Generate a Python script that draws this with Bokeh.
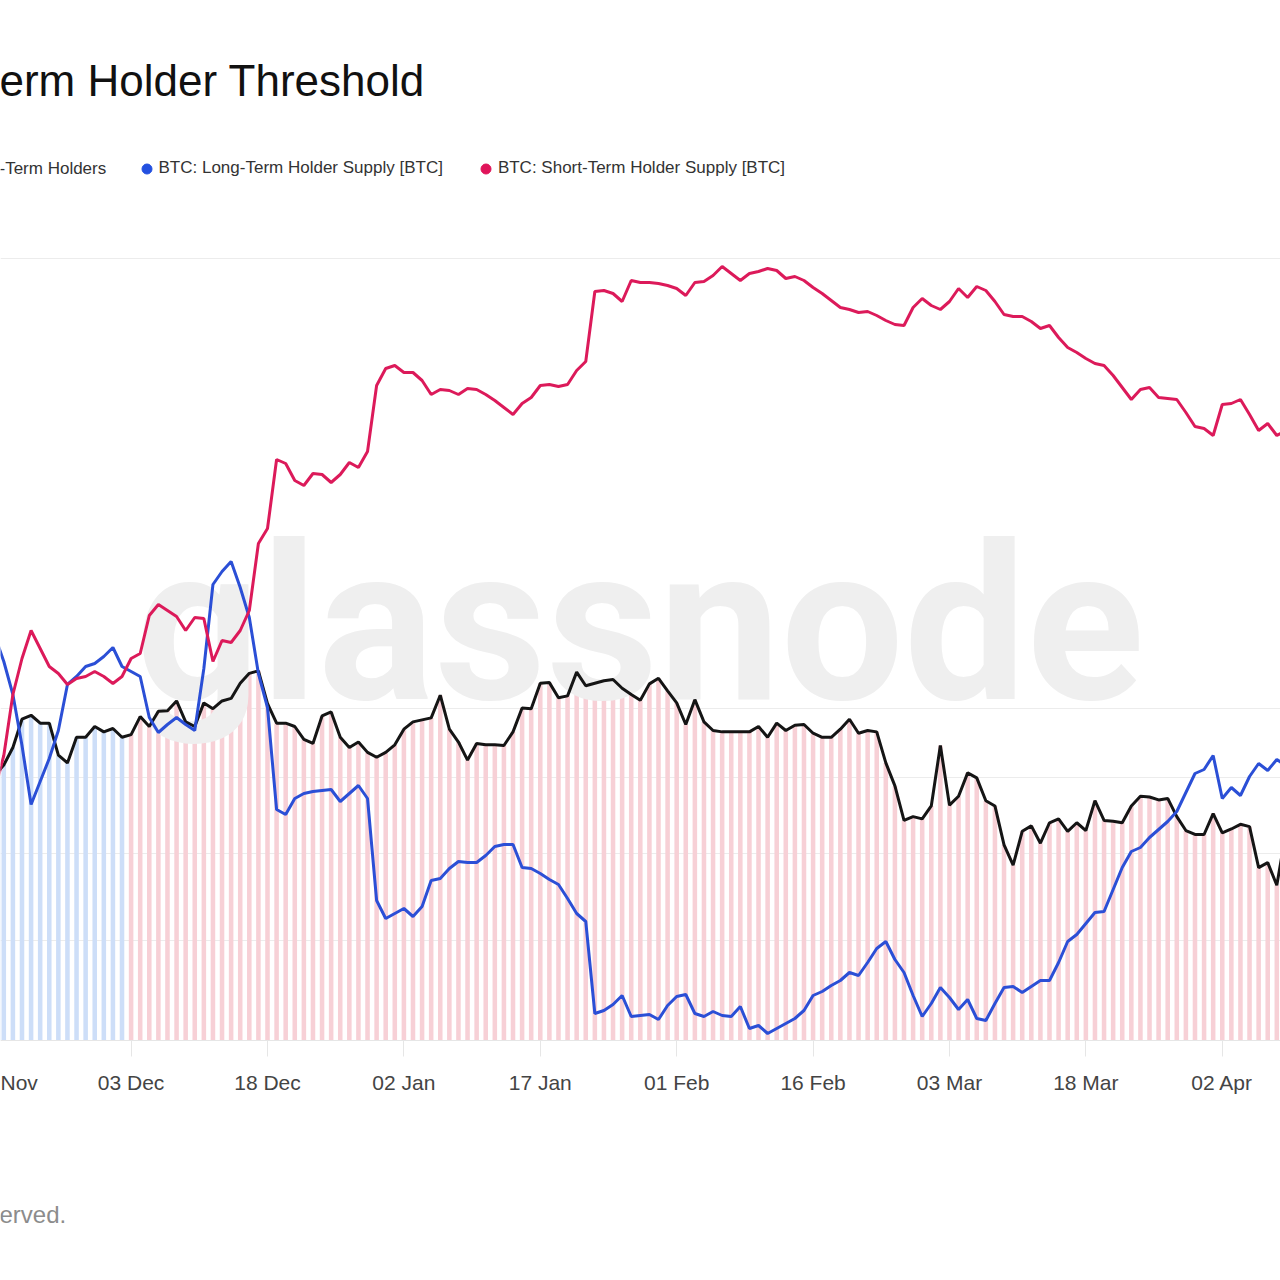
import pandas as pd
from bokeh.plotting import figure
from bokeh.models import (ColumnDataSource, Range1d, LinearScale, FixedTicker,
                          DatetimeTickFormatter, Label, Legend, LegendItem)
from bokeh.core.properties import value
from bokeh.embed import file_html
from bokeh.resources import INLINE

# daily data, first day 18 Nov 2024
start_day = "2024-11-18"
regime_switch = "2024-12-03"
tick_dates = ["2024-12-03", "2024-12-18", "2025-01-02", "2025-01-17", "2025-02-01",
              "2025-02-16", "2025-03-03", "2025-03-18", "2025-04-02"]
price_grid_k = [70, 80, 90, 100, 200]

# BTC price [k USD]
price_k = [
    90.3, 91.7, 94.2, 98.4, 99.0, 97.8, 97.8, 93.1, 92.0, 95.7,
    95.7, 97.3, 96.5, 97.0, 95.7, 96.1, 98.8, 97.3, 99.6, 99.7,
    101.2, 98.0, 97.3, 100.9, 100.0, 101.2, 101.6, 104.0, 105.6, 106.0,
    100.8, 97.8, 97.8, 97.3, 95.4, 94.8, 98.9, 99.5, 95.7, 94.2,
    95.0, 93.5, 92.8, 93.5, 94.6, 96.9, 98.0, 98.3, 98.6, 102.1,
    96.9, 95.0, 92.4, 94.8, 94.6, 94.6, 94.5, 96.5, 100.1, 100.0,
    104.0, 104.1, 101.7, 102.0, 105.8, 103.6, 104.0, 104.4, 104.6, 103.2,
    102.2, 101.3, 103.9, 104.8, 102.8, 100.9, 97.6, 101.4, 98.0, 96.7,
    96.5, 96.5, 96.5, 96.5, 97.3, 95.7, 97.8, 96.7, 97.5, 97.6,
    96.3, 95.7, 95.7, 96.9, 98.4, 96.3, 96.7, 96.5, 92.0, 88.8,
    84.2, 84.7, 84.4, 86.1, 94.5, 86.2, 87.4, 90.6, 89.9, 86.8,
    86.1, 81.1, 78.6, 82.8, 83.5, 81.3, 83.9, 84.4, 82.8, 83.9,
    82.9, 86.8, 84.2, 84.1, 83.9, 86.1, 87.4, 87.3, 86.9, 87.1,
    84.7, 82.9, 82.4, 82.4, 85.1, 82.6, 83.1, 83.7, 83.4, 78.3,
    78.9, 76.2, 82.7,
]

# Long-Term Holder supply [M BTC]
lth_supply = [
    13.505, 13.479, 13.446, 13.395, 13.336, 13.359, 13.382, 13.410, 13.456, 13.464,
    13.474, 13.477, 13.484, 13.493, 13.474, 13.469, 13.464, 13.423, 13.408, 13.416,
    13.423, 13.416, 13.410, 13.472, 13.556, 13.569, 13.579, 13.553, 13.523, 13.467,
    13.433, 13.331, 13.326, 13.342, 13.347, 13.349, 13.350, 13.351, 13.339, 13.347,
    13.355, 13.342, 13.240, 13.222, 13.227, 13.232, 13.224, 13.234, 13.260, 13.262,
    13.272, 13.279, 13.278, 13.278, 13.285, 13.294, 13.296, 13.296, 13.273, 13.272,
    13.267, 13.261, 13.256, 13.242, 13.227, 13.219, 13.127, 13.130, 13.136, 13.145,
    13.124, 13.125, 13.126, 13.121, 13.135, 13.144, 13.146, 13.127, 13.124, 13.129,
    13.125, 13.124, 13.134, 13.112, 13.115, 13.107, 13.112, 13.117, 13.122, 13.130,
    13.145, 13.149, 13.155, 13.160, 13.168, 13.165, 13.178, 13.192, 13.199, 13.181,
    13.168, 13.145, 13.124, 13.137, 13.153, 13.143, 13.131, 13.141, 13.122, 13.120,
    13.137, 13.153, 13.154, 13.148, 13.154, 13.160, 13.160, 13.178, 13.199, 13.206,
    13.217, 13.228, 13.229, 13.251, 13.273, 13.289, 13.293, 13.303, 13.311, 13.319,
    13.329, 13.348, 13.367, 13.371, 13.385, 13.342, 13.353, 13.345, 13.364, 13.377,
    13.370, 13.381, 13.375,
]

# Short-Term Holder supply [M BTC]
sth_supply = [
    3.350, 3.385, 3.446, 3.482, 3.510, 3.492, 3.474, 3.467, 3.456, 3.462,
    3.464, 3.469, 3.464, 3.457, 3.464, 3.482, 3.487, 3.525, 3.536, 3.530,
    3.524, 3.510, 3.523, 3.522, 3.479, 3.500, 3.498, 3.510, 3.530, 3.597,
    3.612, 3.681, 3.677, 3.660, 3.655, 3.667, 3.666, 3.658, 3.666, 3.678,
    3.673, 3.689, 3.755, 3.772, 3.775, 3.768, 3.768, 3.760, 3.746, 3.751,
    3.750, 3.746, 3.752, 3.751, 3.746, 3.740, 3.733, 3.726, 3.737, 3.743,
    3.755, 3.756, 3.754, 3.756, 3.770, 3.779, 3.849, 3.850, 3.847, 3.839,
    3.860, 3.858, 3.858, 3.857, 3.855, 3.852, 3.845, 3.858, 3.859, 3.865,
    3.874, 3.867, 3.860, 3.867, 3.869, 3.872, 3.870, 3.862, 3.864, 3.860,
    3.853, 3.847, 3.840, 3.833, 3.831, 3.828, 3.829, 3.825, 3.820, 3.816,
    3.815, 3.833, 3.842, 3.835, 3.831, 3.839, 3.852, 3.843, 3.854, 3.850,
    3.839, 3.826, 3.824, 3.824, 3.819, 3.812, 3.815, 3.803, 3.793, 3.788,
    3.782, 3.777, 3.775, 3.765, 3.753, 3.741, 3.751, 3.753, 3.743, 3.742,
    3.741, 3.728, 3.714, 3.712, 3.705, 3.736, 3.737, 3.741, 3.726, 3.710,
    3.717, 3.705, 3.710,
]

dates = pd.date_range(start_day, periods=len(price_k), freq="D")
switch = pd.Timestamp(regime_switch)
bar_colors = ["#cddef8" if d < switch else "#f7d0d6" for d in dates]

source = ColumnDataSource(dict(date=dates, price=price_k, lth=lth_supply,
                               sth=sth_supply, color=bar_colors))

day_ms = 24 * 3600 * 1000
x0 = switch - pd.Timedelta(days=14.363)
x1 = switch + pd.Timedelta(days=126.405)

# the frame fills the whole canvas; the plot band runs from y=258 to y=1040
p = figure(width=1280, height=1280, x_axis_type="datetime", y_axis_type="log",
           y_axis_location=None, x_range=Range1d(x0, x1), y_range=Range1d(41.47, 297.5),
           output_backend="svg", toolbar_location=None, min_border=0)
p.outline_line_color = None
p.background_fill_color = "white"
p.xgrid.grid_line_color = None
p.ygrid.ticker = FixedTicker(ticks=price_grid_k)
p.ygrid.grid_line_color = "#ececec"
p.ygrid.grid_line_width = 1

p.extra_y_ranges = {"lth": Range1d(12.86, 14.14), "sth": Range1d(2.86, 4.14)}
p.extra_y_scales = {"lth": LinearScale(), "sth": LinearScale()}

# x axis, drawn at the bottom of the plot band
tick_ms = list(pd.to_datetime(tick_dates).astype("int64") // 10**6)
p.xaxis.fixed_location = 60
p.xaxis.ticker = FixedTicker(ticks=tick_ms)
p.xaxis.formatter = DatetimeTickFormatter(days="%d %b", months="%d %b", years="%d %b")
p.xaxis.axis_line_color = "#e6e6e6"
p.xaxis.major_tick_line_color = "#e6e6e6"
p.xaxis.major_tick_out = 16
p.xaxis.major_tick_in = 0
p.xaxis.minor_tick_line_color = None
p.xaxis.major_label_standoff = 14
p.xaxis.major_label_text_font = "Liberation Sans"
p.xaxis.major_label_text_font_size = "21px"
p.xaxis.major_label_text_color = "#444444"

# daily bars under the price
p.vbar(x="date", top="price", bottom=60, width=0.5 * day_ms, fill_color="color",
       line_color=None, source=source)

# watermark
p.text(x=[pd.Timestamp("2024-12-03 12:00")], y=[113.8], text=["glassnode"],
       text_font=value("Roboto"), text_font_style="bold", text_font_size="218px",
       text_color="#efefef", text_baseline="middle")

p.line(x="date", y="price", source=source, line_color="#151515", line_width=3)
p.line(x="date", y="lth", source=source, y_range_name="lth",
       line_color="#2b4fd6", line_width=3)
p.line(x="date", y="sth", source=source, y_range_name="sth",
       line_color="#dc1a5a", line_width=3)

# legend dots (point kept outside the visible range)
dot_lth = p.scatter(x=[dates[0]], y=[1], marker="circle", size=10, color="#2350e0")
dot_sth = p.scatter(x=[dates[0]], y=[1], marker="circle", size=10, color="#e0145a")
legend = Legend(items=[LegendItem(label="BTC: Long-Term Holder Supply [BTC]", renderers=[dot_lth]),
                       LegendItem(label="BTC: Short-Term Holder Supply [BTC]", renderers=[dot_sth])],
                location=(133.5, 1099.5), orientation="horizontal",
                glyph_width=25, glyph_height=25, label_standoff=0, spacing=30,
                padding=0, margin=0, border_line_color=None, background_fill_alpha=0,
                label_text_font="Liberation Sans", label_text_font_size="17px",
                label_text_color="#333333")
p.add_layout(legend)

# texts cut by the left edge of the picture
p.add_layout(Label(x=-1, y=1200, x_units="screen", y_units="screen", text="erm Holder Threshold",
                   text_font="Liberation Sans", text_font_size="44px", text_color="#111111",
                   text_baseline="middle"))
p.add_layout(Label(x=-1, y=1112, x_units="screen", y_units="screen", text="-Term Holders",
                   text_font="Liberation Sans", text_font_size="17px", text_color="#333333",
                   text_baseline="middle"))
p.add_layout(Label(x=0, y=198, x_units="screen", y_units="screen", text="Nov",
                   text_font="Liberation Sans", text_font_size="21px", text_color="#444444",
                   text_baseline="middle"))
p.add_layout(Label(x=-1, y=66, x_units="screen", y_units="screen", text="erved.",
                   text_font="Liberation Sans", text_font_size="24px", text_color="#8c8c8c",
                   text_baseline="middle"))

open("out.html", "w").write(file_html(p, INLINE))
